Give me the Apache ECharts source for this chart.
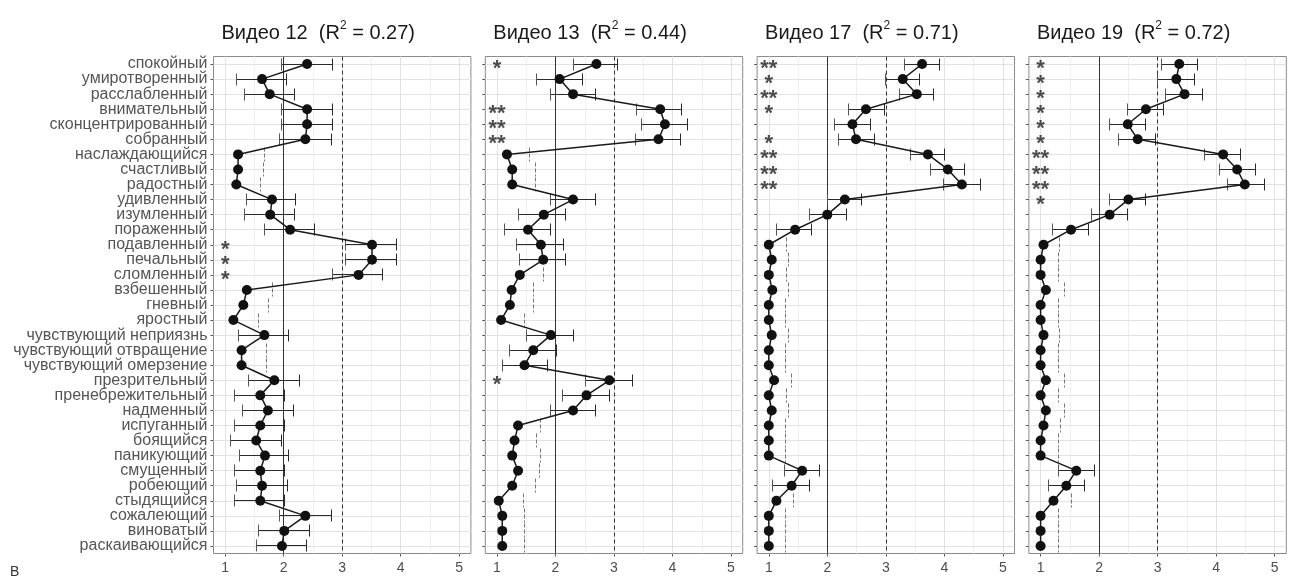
<!DOCTYPE html>
<html><head><meta charset="utf-8">
<script src="https://cdn.jsdelivr.net/npm/echarts@6/dist/echarts.min.js"></script>
<style>html,body{margin:0;padding:0;background:#fff}#c{width:1299px;height:580px}</style>
</head><body><div id="c"></div>
<script>
const categories = ['спокойный','умиротворенный','расслабленный','внимательный','сконцентрированный','собранный','наслаждающийся','счастливый','радостный','удивленный','изумленный','пораженный','подавленный','печальный','сломленный','взбешенный','гневный','яростный','чувствующий неприязнь','чувствующий отвращение','чувствующий омерзение','презрительный','пренебрежительный','надменный','испуганный','боящийся','паникующий','смущенный','робеющий','стыдящийся','сожалеющий','виноватый','раскаивающийся'];
const xTicks = [1,2,3,4,5];
const titles = ['Видео 12','Видео 13','Видео 17','Видео 19'];
const r2Values = ['0.27','0.44','0.71','0.72'];

const v12Mean = [2.40,1.63,1.76,2.40,2.40,2.37,1.22,1.22,1.19,1.80,1.77,2.11,3.51,3.51,3.28,1.37,1.31,1.14,1.67,1.28,1.28,1.84,1.60,1.73,1.60,1.53,1.68,1.60,1.63,1.60,2.37,2.01,1.97];
const v12Lo = [1.97,1.19,1.33,1.97,1.97,1.93,null,null,null,1.36,1.33,1.67,3.05,3.05,2.83,null,null,null,1.22,null,null,1.40,1.16,1.30,1.16,1.09,1.25,1.16,1.20,1.16,1.93,1.57,1.54];
const v12Hi = [2.83,2.04,2.18,2.83,2.83,2.81,1.67,1.66,1.60,2.21,2.18,2.52,3.93,3.93,3.69,1.80,1.74,1.57,2.08,1.71,1.71,2.27,2.01,2.16,2.01,1.96,2.09,2.01,2.06,2.01,2.81,2.44,2.39];
const v12Stars = ['','','','','','','','','','','','','*','*','*','','','','','','','','','','','','','','','','','',''];

const v13Mean = [2.70,2.07,2.30,3.79,3.87,3.76,1.17,1.26,1.26,2.30,1.80,1.53,1.75,1.79,1.39,1.25,1.22,1.07,1.92,1.62,1.47,2.92,2.53,2.30,1.36,1.30,1.26,1.36,1.26,1.03,1.09,1.09,1.09];
const v13Lo = [2.31,1.67,1.92,3.39,3.47,3.36,null,null,null,1.92,1.37,1.13,1.33,1.38,null,null,null,null,1.51,1.21,1.09,2.52,2.12,1.92,null,null,null,null,null,null,null,null,null];
const v13Hi = [3.06,2.47,2.69,4.15,4.26,4.14,1.56,1.65,1.65,2.69,2.17,1.92,2.13,2.17,1.79,1.63,1.62,1.47,2.31,2.01,1.87,3.31,2.92,2.69,1.75,1.67,1.75,1.72,1.65,1.45,1.47,1.47,1.47];
const v13Stars = ['*','','','**','**','**','','','','','','','','','','','','','','','','*','','','','','','','','','','',''];

const v17Mean = [3.62,3.29,3.53,2.66,2.43,2.49,3.72,4.06,4.30,2.30,2.00,1.45,1.00,1.05,1.00,1.06,1.00,1.00,1.05,1.00,1.00,1.09,1.00,1.05,1.00,1.00,1.00,1.57,1.39,1.13,1.00,1.00,1.00];
const v17Lo = [3.32,2.99,3.23,2.36,2.13,2.19,3.42,3.76,3.99,2.00,1.70,1.13,null,null,null,null,null,null,null,null,null,null,null,null,null,null,null,1.26,1.07,null,null,null,null];
const v17Hi = [3.92,3.57,3.82,2.97,2.73,2.81,4.00,4.35,4.62,2.59,2.32,1.73,1.30,1.33,1.30,1.34,1.29,1.29,1.33,1.29,1.29,1.39,1.30,1.33,1.29,1.29,1.29,1.87,1.70,1.43,1.29,1.29,1.29];
const v17Stars = ['**','*','**','*','','*','**','**','**','','','','','','','','','','','','','','','','','','','','','','','',''];

const v19Mean = [3.37,3.32,3.46,2.80,2.49,2.66,4.12,4.36,4.49,2.50,2.18,1.52,1.05,1.00,1.00,1.09,1.00,1.00,1.05,1.00,1.00,1.09,1.00,1.09,1.05,1.00,1.00,1.61,1.44,1.22,1.00,1.00,1.00];
const v19Lo = [3.06,3.00,3.14,2.48,2.18,2.34,3.80,4.06,4.19,2.17,1.87,1.20,null,null,null,null,null,null,null,null,null,null,null,null,null,null,null,1.30,1.13,null,null,null,null];
const v19Hi = [3.69,3.63,3.76,3.10,2.80,2.96,4.42,4.68,4.82,2.80,2.48,1.82,1.33,1.30,1.30,1.41,1.30,1.30,1.33,1.30,1.30,1.41,1.30,1.41,1.34,1.30,1.30,1.92,1.75,1.53,1.30,1.30,1.30];
const v19Stars = ['*','*','*','*','*','*','**','**','**','*','','','','','','','','','','','','','','','','','','','','','','',''];

const panels = [
  {mean:v12Mean, lo:v12Lo, hi:v12Hi, stars:v12Stars},
  {mean:v13Mean, lo:v13Lo, hi:v13Hi, stars:v13Stars},
  {mean:v17Mean, lo:v17Lo, hi:v17Hi, stars:v17Stars},
  {mean:v19Mean, lo:v19Lo, hi:v19Hi, stars:v19Stars}
];

const FONT = 'Liberation Sans, Arial, sans-serif';
const lefts = [213.5, 485.3, 757.1, 1028.9];
const W = 257.4, TOP = 56.5, H = 497;
const px = v => Math.round(v - 0.5) + 0.5;

const grids = [], xAxes = [], yAxes = [], series = [], titleArr = [];
panels.forEach((p, i) => {
  grids.push({left: lefts[i], top: TOP, width: W, height: H, show: true, borderColor: '#8a8a8a', borderWidth: 1, backgroundColor: 'transparent'});
  xAxes.push({gridIndex: i, type: 'value', min: 0.8, max: 5.2,
    axisLine: {show: false}, splitLine: {show: false},
    axisTick: {show: true, customValues: xTicks, length: 3, lineStyle: {color: '#555'}},
    axisLabel: {customValues: xTicks, color: '#4d4d4d', fontSize: 14, margin: 8, fontFamily: FONT}});
  yAxes.push({gridIndex: i, type: 'category', data: categories, inverse: true, boundaryGap: true,
    axisLine: {show: false}, splitLine: {show: false},
    axisTick: {show: true, alignWithLabel: true, length: 3, interval: 0, lineStyle: {color: '#555'}},
    axisLabel: {show: i === 0, interval: 0, color: '#555', fontSize: 16, margin: 6, fontFamily: FONT}});
  titleArr.push({left: lefts[i] + 3, top: 15,
    text: '{t|' + titles[i] + '  (R}{s|2}{t| = ' + r2Values[i] + ')}',
    textStyle: {fontWeight: 'normal', rich: {
      t: {fontSize: 20, color: '#1a1a1a', fontFamily: FONT, fontWeight: 'normal', lineHeight: 26},
      s: {fontSize: 12, color: '#1a1a1a', fontFamily: FONT, fontWeight: 'normal', verticalAlign: 'top', lineHeight: 26}
    }}});
  const ml = [];
  xTicks.forEach(v => ml.push({xAxis: v, lineStyle: {color: '#e2e2e2', width: 1, type: 'solid'}}));
  [1.5, 2.5, 3.5, 4.5].forEach(v => ml.push({xAxis: v, lineStyle: {color: '#efefef', width: 1, type: 'solid'}}));
  categories.forEach((c, k) => ml.push({yAxis: k, lineStyle: {color: '#e2e2e2', width: 1, type: 'solid'}}));
  series.push({type: 'line', xAxisIndex: i, yAxisIndex: i, data: [], silent: true, z: 1,
    markLine: {z: 1, silent: true, symbol: ['none', 'none'], label: {show: false}, animation: false, data: ml}});
  series.push({type: 'line', xAxisIndex: i, yAxisIndex: i, data: [], silent: true, z: 2,
    markLine: {z: 2, silent: true, symbol: ['none', 'none'], label: {show: false}, animation: false, data: [
      {xAxis: 2, lineStyle: {color: '#333', width: 1, type: 'solid'}},
      {xAxis: 3, lineStyle: {color: '#333', width: 1, type: [4, 3]}}
    ]}});
  series.push({type: 'custom', xAxisIndex: i, yAxisIndex: i, z: 3, silent: true,
    data: categories.map((c, k) => [p.hi[k], k]),
    renderItem: (params, api) => {
      const k = params.dataIndex;
      const cs = params.coordSys;
      const hiPt = api.coord([api.value(0), k]);
      const y = px(hiPt[1]);
      const hx = px(hiPt[0]);
      const lo = p.lo[k];
      if (lo === null) {
        return {type: 'line', shape: {x1: hx, y1: y - 7, x2: hx, y2: y + 7},
          style: {stroke: '#777', lineWidth: 1, lineDash: [4, 2]}};
      }
      const loPt = api.coord([lo, k]);
      const lx = px(loPt[0]);
      const x1 = Math.max(lx, cs.x);
      const children = [
        {type: 'line', shape: {x1: x1, y1: y, x2: hx, y2: y}, style: {stroke: '#2a2a2a', lineWidth: 1}},
        {type: 'line', shape: {x1: hx, y1: y - 6, x2: hx, y2: y + 6}, style: {stroke: '#2a2a2a', lineWidth: 1}}
      ];
      if (loPt[0] >= cs.x) children.push({type: 'line', shape: {x1: lx, y1: y - 6, x2: lx, y2: y + 6}, style: {stroke: '#555', lineWidth: 1}});
      return {type: 'group', children: children};
    }});
  series.push({type: 'line', xAxisIndex: i, yAxisIndex: i, z: 4, silent: true,
    data: p.mean.map((m, k) => [m, categories[k]]),
    symbol: 'circle', symbolSize: 10, showSymbol: true,
    lineStyle: {color: '#1a1a1a', width: 1.5}, itemStyle: {color: '#111', borderWidth: 0}, animation: false});
  const starData = [];
  p.stars.forEach((s, k) => { if (s) starData.push([1, k, s]); });
  series.push({type: 'scatter', xAxisIndex: i, yAxisIndex: i, z: 5, silent: true,
    data: starData, symbolSize: 0, itemStyle: {color: 'rgba(0,0,0,0)'},
    label: {show: true, position: 'inside', formatter: q => q.value[2], fontSize: 22, fontWeight: 'bold',
      color: '#222', fontFamily: FONT, offset: [0, 5]}});
});

const chart = echarts.init(document.getElementById('c'), null, {renderer: 'canvas'});
chart.setOption({
  animation: false,
  backgroundColor: '#fff',
  title: titleArr,
  grid: grids, xAxis: xAxes, yAxis: yAxes, series: series,
  graphic: [{type: 'text', left: 10, top: 565, style: {text: 'В', fontSize: 14, fill: '#333', fontFamily: FONT}}]
});
</script></body></html>
